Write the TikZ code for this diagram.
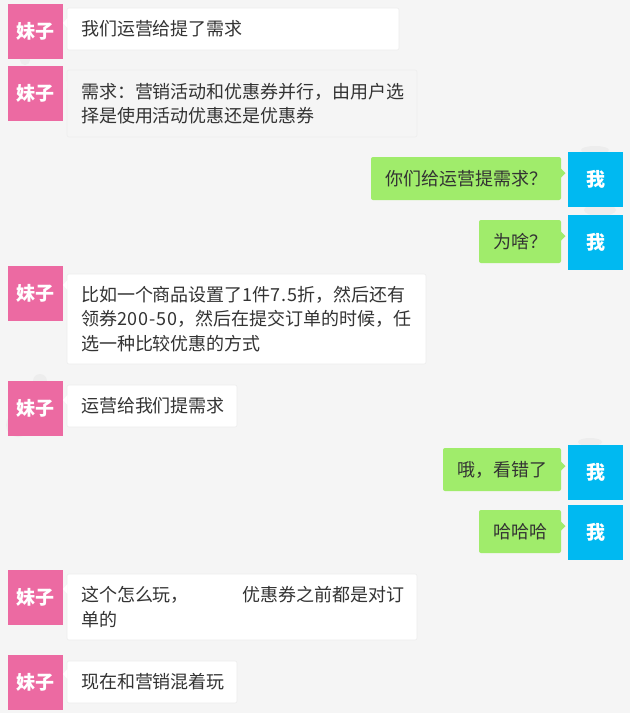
\documentclass[tikz,border=0pt]{standalone}
\usepackage{fontspec}
\setmainfont{Noto Sans CJK SC}
\newfontfamily\numfont[LetterSpace=5]{Noto Sans CJK SC}

\definecolor{pagebg}{HTML}{F5F5F5}
\definecolor{herpink}{HTML}{EC6AA2}
\definecolor{meblue}{HTML}{00B9F1}
\definecolor{megreen}{HTML}{A0EC6B}
\definecolor{msgtext}{HTML}{333333}
\definecolor{msgline}{HTML}{EDEDED}

\tikzset{
    avatar/.style={minimum width=55pt, minimum height=55pt, inner sep=0pt, outer sep=0pt, anchor=north west,
        text=white, font=\fontsize{19}{19}\selectfont\bfseries},
    herface/.style={avatar, fill=herpink},
    meface/.style={avatar, fill=meblue},
    bubble/.style={rounded corners=2pt, inner ysep=0pt, inner xsep=14pt, outer sep=0pt, anchor=north west, align=left,
        text=msgtext, font=\fontsize{18}{24.5}\selectfont},
    herbubble/.style={bubble, fill=white, draw=msgline, line width=0.6pt},
    mebubble/.style={bubble, fill=megreen},
    blot/.style={fill=black!9, opacity=0.6}
}

\begin{document}
\begin{tikzpicture}[x=1pt, y=-1pt]
    \useasboundingbox (0,0) rectangle (630,713);
    \fill [pagebg] (0,0) rectangle (630,713);

    % faint marks behind the faces
    \fill [blot] (25,60) circle (5);
    \fill [blot] (40,381) circle (7);
    \fill [blot] (18,425) circle (12);
    \fill [blot] (595,150) ellipse (14 and 4);
    \fill [blot] (600,210) ellipse (16 and 6);
    \fill [blot] (590,442) ellipse (12 and 4);

    % her messages
    \node [herface] (f1) at (8,4) {妹子};
    \node [herbubble, text width=304pt, minimum height=42pt] (m1) at (67,8) {我们运营给提了需求};
    \node [herface] (f2) at (8,66) {妹子};
    \node [herbubble, fill=pagebg, text width=322pt, minimum height=67pt] (m2) at (67,70) {需求：营销活动和优惠券并行，由用户选\\择是使用活动优惠还是优惠券};
    \node [herface] (f5) at (8,266) {妹子};
    \node [herbubble, text width=331pt, minimum height=90pt] (m5) at (67,274) {比如一个商品设置了{\numfont 1}件{\numfont 7.5}折，然后还有\\领券{\numfont 200-50}，然后在提交订单的时候，任\\选一种比较优惠的方式};
    \node [herface] (f6) at (8,381) {妹子};
    \node [herbubble, text width=142pt, minimum height=42pt] (m6) at (67,385) {运营给我们提需求};
    \node [herface] (f9) at (8,570) {妹子};
    \node [herbubble, text width=322pt, minimum height=66pt] (m9) at (67,574) {这个怎么玩，\kern54pt 优惠券之前都是对订\\单的};
    \node [herface] (f10) at (8,655) {妹子};
    \node [herbubble, text width=142pt, minimum height=42pt] (m10) at (67,661) {现在和营销混着玩};

    % my messages
    \node [meface] (f3) at (568,152) {我};
    \node [mebubble, text width=162pt, minimum height=43pt] (m3) at (371,157) {你们给运营提需求？};
    \node [meface] (f4) at (568,215) {我};
    \node [mebubble, text width=54pt, minimum height=43pt] (m4) at (479,220) {为啥？};
    \node [meface] (f7) at (568,445) {我};
    \node [mebubble, text width=90pt, minimum height=43pt] (m7) at (443,448) {哦，看错了};
    \node [meface] (f8) at (568,505) {我};
    \node [mebubble, text width=54pt, minimum height=43pt] (m8) at (479,510) {哈哈哈};

    % little tails
    \foreach \face/\msg/\fillc in {f1/m1/white, f2/m2/pagebg, f5/m5/white, f6/m6/white, f9/m9/white, f10/m10/white} {
        \fill [\fillc] (\msg.north west |- \face.north) ++(0.5,14) -- ++(-4.5,5) -- ++(4.5,5) -- cycle;
    }
    \foreach \face/\msg in {f3/m3, f4/m4, f7/m7, f8/m8} {
        \fill [megreen] (\msg.north east |- \face.north) ++(-0.5,16) -- ++(5,5) -- ++(-5,5) -- cycle;
    }
\end{tikzpicture}
\end{document}
